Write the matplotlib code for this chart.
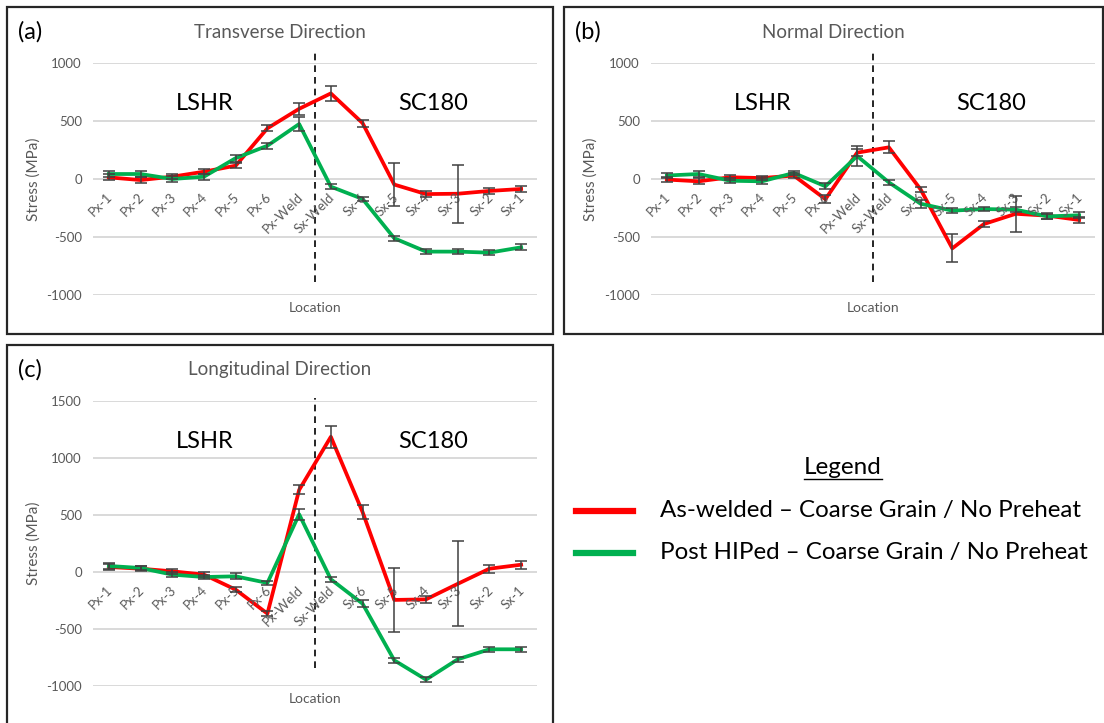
import matplotlib
matplotlib.use('Agg')
import matplotlib.pyplot as plt
from matplotlib.patches import Rectangle
from matplotlib.lines import Line2D
from matplotlib.transforms import offset_copy

plt.rcParams['font.family'] = ['Lato', 'DejaVu Sans']
plt.rcParams['axes.unicode_minus'] = False

# measurement locations across the weld
locations = ['Px-1', 'Px-2', 'Px-3', 'Px-4', 'Px-5', 'Px-6', 'Px-Weld',
             'Sx-Weld', 'Sx-6', 'Sx-5', 'Sx-4', 'Sx-3', 'Sx-2', 'Sx-1']

# transverse direction (MPa)
trans_aw = [14, -9, 20, 63, 115, 437, 605, 738, 482, -48, -130, -127, -103, -86]
trans_aw_err = [25, 25, 20, 20, 20, 25, 50, 65, 30, 188, 25, 248, 25, 25]
trans_hip = [43, 43, 0, 20, 180, 287, 474, -66, -172, -511, -626, -626, -635, -589]
trans_hip_err = [25, 25, 30, 25, 30, 25, 60, 20, 20, 20, 20, 20, 20, 25]

# normal direction (MPa)
norm_aw = [-5, -20, 15, 8, 30, -174, 227, 273, -89, -598, -388, -300, -316, -353]
norm_aw_err = [25, 25, 20, 20, 20, 35, 30, 53, 20, 120, 25, 154, 25, 25]
norm_hip = [30, 43, -15, -20, 52, -63, 198, -29, -213, -273, -259, -264, -322, -313]
norm_hip_err = [25, 25, 20, 25, 20, 25, 88, 20, 35, 20, 20, 20, 20, 25]

# longitudinal direction (MPa)
long_aw = [44, 29, 6, -23, -155, -365, 720, 1186, 526, -245, -240, -104, 29, 64]
long_aw_err = [25, 20, 20, 20, 20, 20, 40, 95, 60, 280, 30, 373, 35, 35]
long_hip = [53, 35, -23, -44, -38, -96, 506, -64, -278, -775, -944, -766, -678, -678]
long_hip_err = [25, 20, 20, 20, 25, 20, 50, 20, 30, 20, 20, 20, 20, 20]

aw_label = 'As-welded \u2013 Coarse Grain / No Preheat'
hip_label = 'Post HIPed \u2013 Coarse Grain / No Preheat'
RED = '#FF0000'
GREEN = '#00B050'
GREY = '#595959'

W, H = 1104, 723
fig = plt.figure(figsize=(W / 100, H / 100), dpi=100)


def fx(px):
    return px / W


def fy(py):
    return 1 - py / H


def panel(box, plot, tag, title, aw, aw_err, hip, hip_err, yticks, ylim, div):
    # outer frame of the panel
    x0, y0, x1, y1 = box
    fig.add_artist(Rectangle((fx(x0), fy(y1)), (x1 - x0) / W, (y1 - y0) / H,
                             transform=fig.transFigure, fill=False,
                             lw=1.6, ec='#262626'))
    l, t, r, b = plot
    ax = fig.add_axes([fx(l), fy(b), (r - l) / W, (b - t) / H])
    x = list(range(len(locations)))
    ax.plot(x, aw, color=RED, lw=2.7, zorder=3)
    ax.plot(x, hip, color=GREEN, lw=2.7, zorder=3)
    ax.errorbar(x, aw, yerr=aw_err, fmt='none', ecolor='#404040',
                elinewidth=1.1, capsize=4, capthick=1.1, zorder=4)
    ax.errorbar(x, hip, yerr=hip_err, fmt='none', ecolor='#404040',
                elinewidth=1.1, capsize=4, capthick=1.1, zorder=4)
    ax.set_xlim(-0.5, len(locations) - 0.5)
    ax.set_ylim(*ylim)
    ax.set_yticks(yticks)
    ax.set_xticks([])
    ax.yaxis.grid(True, color='#D9D9D9', lw=1.4)
    ax.set_axisbelow(True)
    for s in ax.spines.values():
        s.set_visible(False)
    ax.tick_params(axis='y', length=0, pad=8, labelsize=9.5, labelcolor=GREY)
    ax.patch.set_alpha(0)

    # category labels sit on the zero line
    tr = offset_copy(ax.transData, fig=fig, x=6, y=-12, units='dots')
    for i, lab in enumerate(locations):
        ax.text(i, 0, lab, transform=tr, rotation=45, ha='right', va='top',
                fontsize=9.5, color=GREY)

    # divider between the two alloys
    ax.axvline(6.5, ymin=div[0], ymax=div[1], color='black', lw=1.2,
               ls=(0, (4, 3)), clip_on=False, zorder=2)

    cx = (l + r) / 2
    fig.text(fx(x0 + 11), fy(t - 31), tag, fontsize=17, ha='left', va='center')
    fig.text(fx((x0 + x1) / 2), fy(t - 31), title, fontsize=13.5, color=GREY,
             ha='center', va='center')
    fig.text(fx(l + 112), fy(t + 40), 'LSHR', fontsize=17, ha='center', va='center')
    fig.text(fx(l + 340), fy(t + 40), 'SC180', fontsize=17, ha='center', va='center')
    fig.text(fx(x0 + 27), fy((t + b) / 2), 'Stress (MPa)', rotation=90,
             fontsize=11, color=GREY, ha='center', va='center')
    fig.text(fx(cx), fy(b + 13), 'Location', fontsize=10, color=GREY,
             ha='center', va='center')
    return ax


panel((7, 7, 553, 334), (93, 63, 537, 295), '(a)', 'Transverse Direction',
      trans_aw, trans_aw_err, trans_hip, trans_hip_err,
      [-1000, -500, 0, 500, 1000], (-1000, 1000), (0.056, 1.047))
panel((564, 7, 1103, 334), (651, 63, 1095, 295), '(b)', 'Normal Direction',
      norm_aw, norm_aw_err, norm_hip, norm_hip_err,
      [-1000, -500, 0, 500, 1000], (-1000, 1000), (0.056, 1.047))
panel((7, 345, 553, 740), (93, 401, 537, 686), '(c)', 'Longitudinal Direction',
      long_aw, long_aw_err, long_hip, long_hip_err,
      [-1000, -500, 0, 500, 1000, 1500], (-1000, 1500), (0.063, 1.01))

# legend block
fig.text(fx(843), fy(467), 'Legend', fontsize=17.5, ha='center', va='center')
fig.add_artist(Line2D([fx(804), fx(882)], [fy(479), fy(479)], color='black',
                      lw=1.0, transform=fig.transFigure))
fig.add_artist(Line2D([fx(576), fx(633)], [fy(511), fy(511)], color=RED,
                      lw=4.5, transform=fig.transFigure))
fig.add_artist(Line2D([fx(576), fx(633)], [fy(553), fy(553)], color=GREEN,
                      lw=4.5, transform=fig.transFigure))
fig.text(fx(660), fy(511), aw_label, fontsize=17.4, ha='left', va='center')
fig.text(fx(660), fy(553), hip_label, fontsize=17.4, ha='left', va='center')

fig.savefig('out.png', dpi=100)
